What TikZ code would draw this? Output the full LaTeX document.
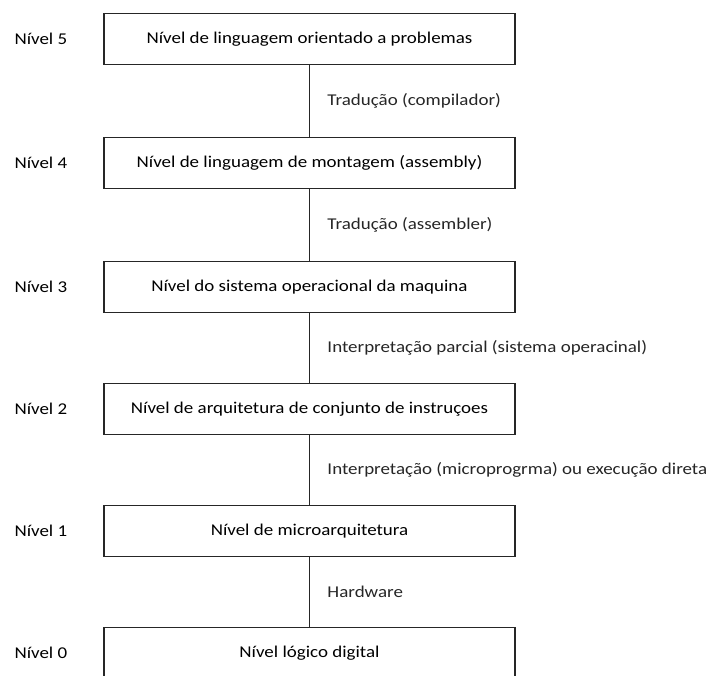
\documentclass[tikz,border=0pt]{standalone}
\usepackage{fontspec}
\setmainfont[FakeStretch=1.15]{Carlito}
\usepackage{tikz}

\tikzset{
  nivel/.style={draw=black!85, line width=1.3pt, minimum width=411pt, minimum height=51pt, inner sep=0pt, font=\fontsize{16.5}{18}\selectfont},
  rotulo/.style={anchor=west, font=\fontsize{16.5}{18}\selectfont},
  passo/.style={midway, right, xshift=14pt, font=\fontsize{16.5}{18}\selectfont}
}

\begin{document}
\begin{tikzpicture}[x=1pt, y=-1pt]
    \clip (0, 0) rectangle (707, 675);
    \node[nivel] (N5) at (309.5, 39){Nível de linguagem orientado a problemas};
    \node[nivel] (N4) at (309.5, 163){Nível de linguagem de montagem (assembly)};
    \node[nivel] (N3) at (309.5, 287){Nível do sistema operacional da maquina};
    \node[nivel] (N2) at (309.5, 409){Nível de arquitetura de conjunto de instruçoes};
    \node[nivel] (N1) at (309.5, 531){Nível de microarquitetura};
    \node[nivel] (N0) at (309.5, 653){Nível lógico digital};
    \node[rotulo] (L5) at (11, 39){Nível 5};
    \node[rotulo] (L4) at (11, 163){Nível 4};
    \node[rotulo] (L3) at (11, 287){Nível 3};
    \node[rotulo] (L2) at (11, 409){Nível 2};
    \node[rotulo] (L1) at (11, 531){Nível 1};
    \node[rotulo] (L0) at (11, 653){Nível 0};
    \draw[line width=1.3pt, black!85] (N5)--(N4) node[passo]{Tradução (compilador)};
    \draw[line width=1.3pt, black!85] (N4)--(N3) node[passo]{Tradução (assembler)};
    \draw[line width=1.3pt, black!85] (N3)--(N2) node[passo]{Interpretação parcial (sistema operacinal)};
    \draw[line width=1.3pt, black!85] (N2)--(N1) node[passo]{Interpretação (microprogrma) ou execução direta};
    \draw[line width=1.3pt, black!85] (N1)--(N0) node[passo]{Hardware};
  \end{tikzpicture}
\end{document}
